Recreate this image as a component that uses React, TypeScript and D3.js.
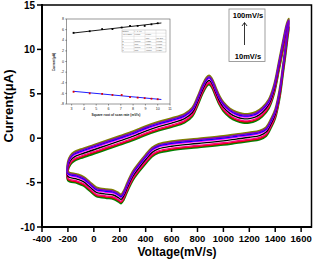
import React from 'react';
import * as d3 from 'd3';

// middle of the CV band, [potential mV, current µA]
const forwardScan = [
  [-200, -3.1], [-180, -2.4], [-150, -2.0], [-100, -1.7], [0, -1.2], [100, -0.7],
  [200, -0.2], [300, 0.3], [350, 0.6], [400, 0.9], [500, 1.4], [600, 1.8], [700, 2.3],
  [760, 3.0], [800, 4.2], [840, 5.6], [870, 6.4], [890, 6.6], [910, 6.3], [940, 5.3],
  [970, 4.3], [1000, 3.6], [1050, 2.9], [1100, 2.5], [1150, 2.3], [1200, 2.3],
  [1250, 2.5], [1300, 3.0], [1350, 3.9], [1390, 5.5], [1430, 8.3], [1460, 10.5],
  [1490, 12.5], [1505, 13.0],
];
const reverseScan = [
  [1495, 11.8], [1480, 10.0], [1460, 7.8], [1440, 5.6], [1420, 4.0], [1400, 2.8],
  [1370, 1.8], [1330, 0.8], [1280, 0.4], [1200, 0.2], [1100, 0.0], [1000, -0.2],
  [800, -0.5], [600, -0.8], [500, -1.1], [450, -1.5], [400, -2.3], [350, -3.2],
  [300, -4.2], [260, -5.4], [230, -6.4], [210, -6.8], [190, -6.6], [150, -6.3],
  [100, -6.2], [50, -6.1], [20, -6.0], [-30, -5.4], [-80, -4.8], [-130, -4.5], [-200, -4.2],
];

// one curve per colour, vertical shift (µA) of each inside the band
const curveColors = ['#008000', '#808000', '#e00000', '#ff0080', '#000000', '#ff00ff', '#0000ff', '#8000c0'];
const curveShift = [-0.55, 0.45, -0.43, -0.32, -0.1, 0.11, 0.22, 0.33];

const xTicks = [-400, -200, 0, 200, 400, 600, 800, 1000, 1200, 1400, 1600];
const yTicks = [-10, -5, 0, 5, 10, 15];

// inset: peak current vs sqrt(scan rate)
const sqrtRate = [3.16, 4.47, 5.48, 6.32, 7.07, 7.75, 8.37, 8.94, 9.49, 10];
const anodicPeak = [5.4, 5.7, 6.1, 6.1, 6.4, 6.7, 6.7, 6.7, 7.0, 7.2];
const cathodicPeak = [-5.7, -6.0, -6.1, -6.3, -6.3, -6.7, -6.8, -6.9, -7.0, -7.1];
const anodicFit = [[3.1, 5.35], [10.3, 7.25]];
const cathodicFit = [[3.1, -5.6], [10.3, -7.15]];
const insetXTicks = [3, 4, 5, 6, 7, 8, 9, 10, 11];
const insetYTicks = [-8, -6, -4, -2, 0, 2, 4, 6, 8];
const tableRows = [
  ['Equation', 'y = a + b*x', '', ''],
  ['Adj. R-Square', '0.96912', '0.97976', ''],
  ['', '', 'Value', 'Std. Error'],
  ['B', 'Intercept', '4.65521', '0.10632'],
  ['B', 'Slope', '0.25314', '0.01455'],
  ['C', 'Intercept', '-4.94742', '0.08831'],
  ['C', 'Slope', '-0.21073', '0.01209'],
];

const FONT = '"Liberation Sans", Arial, sans-serif';

export default function App() {
  const x = d3.scaleLinear().domain([-400, 1680]).range([42, 311.5]);
  const y = d3.scaleLinear().domain([-10, 15]).range([227, 5]);

  const loop = [...forwardScan, ...reverseScan];
  const line = (shift: number) =>
    d3.line<number[]>()
      .x(d => x(d[0]))
      .y(d => y(d[1] + shift))
      .curve(d3.curveCatmullRomClosed.alpha(0.5))(loop) || '';

  const ix = d3.scaleLinear().domain([2.6, 11]).range([66.7, 170]);
  const iy = d3.scaleLinear().domain([-8, 8]).range([104, 19]);
  const iline = d3.line<number[]>().x(d => ix(d[0])).y(d => iy(d[1]));

  const tx = 122, ty = 30, tw = 44, th = 22;
  const colX = [0, 12, 23, 34];
  const rowH = th / tableRows.length;

  return (
    <svg width={315} height={263} style={{ position: 'absolute', left: 0, top: 0 }} fontFamily={FONT}>
      <rect width={315} height={263} fill="#fff" />

      {/* CV curves */}
      {curveColors.map((c, i) => (
        <path key={i} d={line(curveShift[i])} fill="none" stroke={c}
          strokeWidth={i < 2 ? 2 : 1.4} strokeLinejoin="round" />
      ))}

      {/* frame and axes */}
      <rect x={42} y={5} width={269.5} height={222} fill="none" stroke="#000" strokeWidth={1.5} />
      <line x1={42} y1={4} x2={42} y2={228} stroke="#000" strokeWidth={2} />
      <line x1={41} y1={227} x2={312} y2={227} stroke="#000" strokeWidth={2} />
      {xTicks.map(t => (
        <g key={t}>
          <line x1={x(t)} x2={x(t)} y1={227} y2={232} stroke="#000" strokeWidth={1.5} />
          <text x={x(t)} y={242} textAnchor="middle" fontSize={9.5} fontWeight="bold">{t}</text>
        </g>
      ))}
      {yTicks.map(t => (
        <g key={t}>
          <line x1={37} x2={42} y1={y(t)} y2={y(t)} stroke="#000" strokeWidth={1.5} />
          <text x={35} y={y(t) + 3.5} textAnchor="end" fontSize={10} fontWeight="bold">{t}</text>
        </g>
      ))}
      <text x={177} y={256} textAnchor="middle" fontSize={12} fontWeight="bold">Voltage(mV/s)</text>
      <text transform="translate(13,106) rotate(-90)" textAnchor="middle" fontSize={13} fontWeight="bold">Current(μA)</text>

      {/* scan rate note */}
      <rect x={229} y={9} width={36} height={52.5} fill="#fff" stroke="#888" strokeWidth={0.8} />
      <text x={248} y={17.5} textAnchor="middle" fontSize={7.5} fontWeight="bold">100mV/s</text>
      <line x1={244.5} x2={244.5} y1={45} y2={23} stroke="#000" strokeWidth={0.8} />
      <path d="M242 26 L244.5 22.5 L247 26" fill="none" stroke="#000" strokeWidth={0.8} />
      <text x={248} y={59} textAnchor="middle" fontSize={7.5} fontWeight="bold">10mV/s</text>

      {/* inset */}
      <rect x={66.7} y={19} width={103.3} height={85} fill="#fff" stroke="#555" strokeWidth={0.6} />
      {insetXTicks.map(t => (
        <g key={t}>
          <line x1={ix(t)} x2={ix(t)} y1={104} y2={105.5} stroke="#333" strokeWidth={0.5} />
          <text x={ix(t)} y={109.5} textAnchor="middle" fontSize={3.6} fill="#222">{t}</text>
        </g>
      ))}
      {insetYTicks.map(t => (
        <g key={t}>
          <line x1={65.2} x2={66.7} y1={iy(t)} y2={iy(t)} stroke="#333" strokeWidth={0.5} />
          <text x={64} y={iy(t) + 1.2} textAnchor="end" fontSize={3.6} fill="#222">{t}</text>
        </g>
      ))}
      <text x={116} y={116} textAnchor="middle" fontSize={3.3} fontWeight="bold" fill="#222">Square root of scan rate (mV/s)</text>
      <text transform="translate(55,62) rotate(-90)" textAnchor="middle" fontSize={3.3} fontWeight="bold" fill="#222">Current(µA)</text>

      <path d={iline(anodicFit) || ''} stroke="#000" strokeWidth={0.9} fill="none" />
      <path d={iline(cathodicFit) || ''} stroke="#2020ff" strokeWidth={1.2} fill="none" />
      {sqrtRate.map((s, i) => (
        <g key={i}>
          <rect x={ix(s) - 0.9} y={iy(anodicPeak[i]) - 0.9} width={1.8} height={1.8} fill="#000" />
          <rect x={ix(s) - 0.9} y={iy(cathodicPeak[i]) - 0.9} width={1.8} height={1.8} fill="#e00000" />
        </g>
      ))}

      {/* fit table */}
      <rect x={tx} y={ty} width={tw} height={th} fill="#fff" stroke="#999" strokeWidth={0.4} />
      {tableRows.map((r, i) => (
        <g key={i}>
          {i > 0 && <line x1={tx} x2={tx + tw} y1={ty + i * rowH} y2={ty + i * rowH} stroke="#bbb" strokeWidth={0.3} />}
          {r.map((c, j) => (
            <text key={j} x={tx + colX[j] + 0.6} y={ty + i * rowH + rowH - 0.9} fontSize={1.5} fill="#444">{c}</text>
          ))}
        </g>
      ))}
      {colX.slice(1).map((c, j) => (
        <line key={j} x1={tx + c} x2={tx + c} y1={ty} y2={ty + th} stroke="#bbb" strokeWidth={0.3} />
      ))}
    </svg>
  );
}
